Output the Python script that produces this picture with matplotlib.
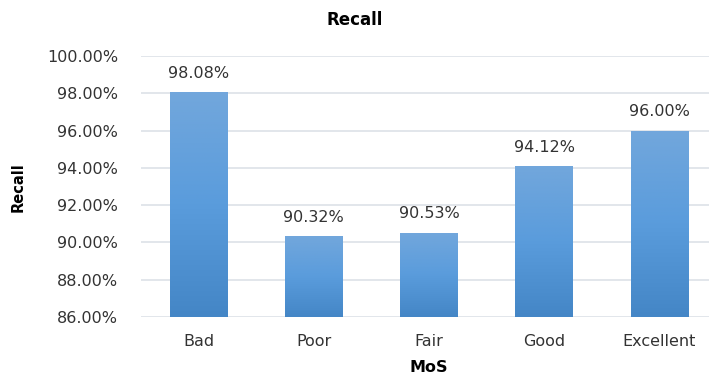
import matplotlib
matplotlib.use("Agg")
import matplotlib.pyplot as plt
import numpy as np
from matplotlib.colors import LinearSegmentedColormap
from matplotlib.ticker import FuncFormatter

categories = ["Bad", "Poor", "Fair", "Good", "Excellent"]
recall = [98.08, 90.32, 90.53, 94.12, 96.00]
y_ticks = [86, 88, 90, 92, 94, 96, 98, 100]

plt.rcParams["font.family"] = ["DejaVu Sans"]

fig = plt.figure(figsize=(7.09, 3.78), dpi=100)
ax = fig.add_axes([141 / 709, 1 - 317 / 378, 576 / 709, 261 / 378])

x = np.arange(len(categories))
bars = ax.bar(x, recall, width=0.5, color="none", zorder=3)

# vertical blue gradient inside each bar (lighter at top)
grad_cmap = LinearSegmentedColormap.from_list(
    "bar_grad", ["#4486c6", "#5a9cdc", "#72a7dc"])
grad = np.linspace(0, 1, 256).reshape(-1, 1)
for b in bars:
    x0, y0 = b.get_x(), b.get_y()
    w, h = b.get_width(), b.get_height()
    bottom = 86
    im = ax.imshow(grad, cmap=grad_cmap, origin="lower", aspect="auto",
                   extent=[x0, x0 + w, bottom, y0 + h], zorder=3)
    im.set_clip_path(b)

ax.set_xlim(-0.5, len(categories) - 0.5)
ax.set_ylim(86, 100)
ax.set_yticks(y_ticks)
ax.yaxis.set_major_formatter(FuncFormatter(lambda v, p: f"{v:.2f}%"))
ax.set_xticks(x)
ax.set_xticklabels(categories)

ax.grid(axis="y", color="#dde1e8", linewidth=1.2, zorder=0)
ax.set_axisbelow(True)
for s in ["top", "right", "left", "bottom"]:
    ax.spines[s].set_visible(False)
ax.tick_params(axis="both", length=0, labelsize=11.5, colors="#333333")
ax.tick_params(axis="y", pad=16.5)
ax.tick_params(axis="x", pad=12)

for xi, v in zip(x, recall):
    ax.annotate(f"{v:.2f}%", (xi, v), xytext=(0, 8), textcoords="offset points",
                ha="center", va="bottom", fontsize=11.5, color="#333333")

ax.set_xlabel("MoS", fontsize=11.5, fontweight="bold", labelpad=8)
fig.text(18 / 709, 1 - 187 / 378, "Recall", rotation=90, ha="center",
         va="center", fontsize=10.5, fontweight="bold")
fig.text(0.5, 1 - 20 / 378, "Recall", ha="center", va="center",
         fontsize=12, fontweight="bold")

fig.savefig("out.png", dpi=100)
